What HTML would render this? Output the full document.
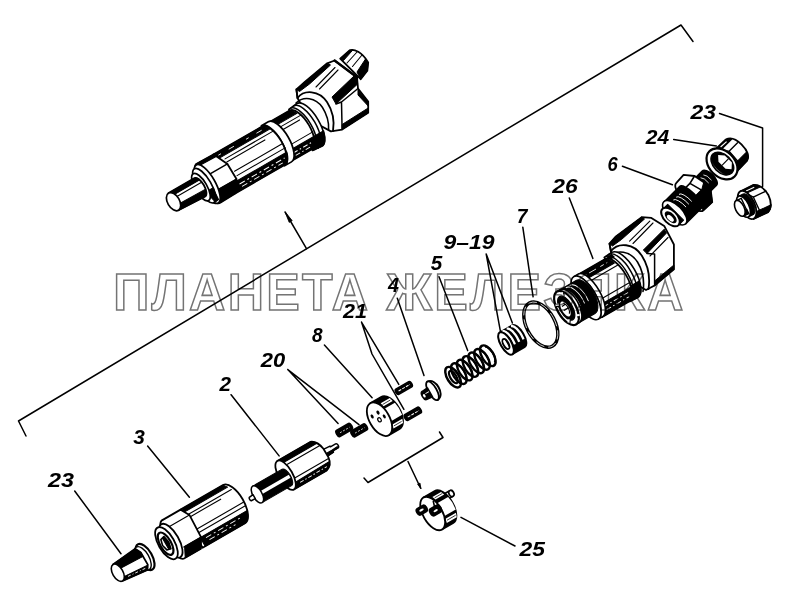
<!DOCTYPE html>
<html lang="ru">
<head>
<meta charset="utf-8">
<title>Форсунка</title>
<style>
html,body{margin:0;padding:0;background:#fff;}
body{width:800px;height:590px;overflow:hidden;position:relative;}
svg{position:absolute;left:0;top:0;display:block;}
.ln{stroke:#000;stroke-width:1.5;fill:none;stroke-linecap:round;stroke-linejoin:round;}
.th{stroke:#000;stroke-width:1.1;fill:none;stroke-linecap:round;stroke-linejoin:round;}
.bd{stroke:#000;stroke-width:1.8;fill:#fff;stroke-linecap:round;stroke-linejoin:round;}
.bk{stroke:#000;stroke-width:1;fill:#000;stroke-linejoin:round;}
.lb{font-family:"Liberation Sans",sans-serif;font-weight:bold;font-style:italic;font-size:19.5px;fill:#000;}
.wm{font-family:"Liberation Sans",sans-serif;font-weight:bold;font-size:52.6px;fill:none;stroke:#747474;stroke-width:1.55;mix-blend-mode:multiply;}
</style>
</head>
<body>
<svg width="800" height="590" viewBox="0 0 800 590">
<rect x="0" y="0" width="800" height="590" fill="#fff"/>

<!-- PARTS -->
<g id="parts">
<!-- part 23: protective cap (left) -->
<g transform="translate(117.8 572.7) rotate(-30)">
<ellipse class="bd" cx="31.5" cy="0" rx="7" ry="14.5" style="stroke-width:2.2"/>
<ellipse class="bd" cx="28.8" cy="0" rx="6.3" ry="13" style="stroke-width:1.4"/>
<path class="bd" d="M0 -9.5 L27 -12 L30 -6 L30 8 L27 12.5 L0 9.5 Z"/>
<path class="bk" d="M0 -9.5 L27 -12 L30 -6 L30 -1.5 L4 -2.5 Z"/>
<path class="bk" d="M4 6.5 L29 8.5 L27 12.5 L1 9.5 Z"/>
<path d="M7 8.3 L26 10" stroke="#fff" stroke-width="0.8" stroke-dasharray="3 2 1 2" fill="none"/>
<ellipse class="bd" cx="0" cy="0" rx="5.2" ry="9.5" style="stroke-width:1.6"/>
</g>
<!-- part 2: nozzle -->
<g transform="translate(285.6 475.2) rotate(-30)">
<path class="bd" d="M44 -3.6 L53 -3 L53 -2.2 L59 -2.2 A1.5 2.4 0 0 1 59 2.6 L53 2.6 L53 4 L44 4.6 Z" style="stroke-width:1.5"/>
<path class="bk" d="M45 1.5 L53 1.5 L59 1 L59 2.6 L53 2.6 L53 4 L45 4.6 Z"/>
<path class="bd" d="M0 -16.5 L38 -16.5 C42 -15 45 -10 46 -4 L46 6 C45.5 11 43 15 38 16.5 L0 16.5 Z"/>
<path class="bk" d="M3 -16.5 L38 -16.5 C40 -15.8 42 -14 43 -12 L5 -12 Z"/>
<path class="bk" d="M6 11 L44 10 C43 13.5 41 15.5 38 16.5 L3 16.5 Z"/>
<path class="th" d="M7 -8.5 L44.5 -8.5 M7 7 L45 7"/>
<path d="M9 13.5 L40 13.2" stroke="#fff" stroke-width="0.9" stroke-dasharray="4 2 1.5 2" fill="none"/>
<ellipse class="bd" cx="0" cy="0" rx="7" ry="16.5"/>
<path class="bk" d="M-34 -7 L0 -7 A4 9.5 0 0 1 0 12 L-34 12 Z"/>
<path d="M-30 1.2 L3 1.2 L3 4.6 L-30 4.6 Z" fill="#fff"/>
<ellipse class="bd" cx="-34" cy="2.5" rx="4.6" ry="9.5" style="stroke-width:1.5"/>
<path class="bd" d="M-38 0.6 L-42.5 1 A1.6 2.4 0 0 0 -42.5 5 L-38 5.2 Z" style="stroke-width:1.5"/>
</g>
<!-- part 3: nozzle nut -->
<g transform="translate(165.6 543.7) rotate(-30)">
<path class="bd" d="M30 -22 L79 -22 A10 22 0 0 1 79 22 L30 22 Z"/>
<path class="bk" d="M33 22 L80 22 A10 22 0 0 0 87 12 L33 12 Z"/>
<path class="bk" d="M32 -22 L79 -22 L82 -18 L32 -18 Z"/>
<path class="th" d="M34 -14 L84 -14 M34 -11 L70 -11 M34 3 L88 3 M34 7 L88 7"/>
<path d="M38 15 L80 15 M40 18.5 L70 18.5" stroke="#fff" stroke-width="0.9" stroke-dasharray="6 3 2 3" fill="none"/>
<path class="bd" d="M8 -22 L30 -22 L35 -13 L34 12 L28 22 L10 22 A8 22 0 0 1 8 -22 Z"/>
<path class="bk" d="M10 22 L28 22 L34 12 L15 12 Z"/>
<path class="th" d="M9 -13 L35 -13 M14 12 L34 12"/>
<ellipse class="bd" cx="6" cy="0" rx="8" ry="19"/>
<ellipse class="bd" cx="1" cy="0" rx="8" ry="18"/>
<ellipse class="bd" cx="0" cy="0" rx="5.5" ry="12.5" style="stroke-width:2.2"/>
<path class="bk" d="M-2 -6 L2 -7 L3.5 0 L2 7 L-2 6 L-3.5 0 Z" style="fill:#fff;stroke-width:1.6"/>
<path class="bk" d="M0 -6 L2 -7 L3.5 0 L2 7 L0 6 Z"/>
</g>
<!-- pins 20 -->
<g transform="translate(344.2 430) rotate(-30)">
<path class="bk" d="M-7 -3.4 L7 -3.4 A1.6 3.4 0 0 1 7 3.4 L-7 3.4 A1.6 3.4 0 0 1 -7 -3.4 Z" style="stroke-width:1.6"/>
<path d="M-5 0.3 L6 0.3" stroke="#fff" stroke-width="0.7" stroke-dasharray="2 1.5" fill="none"/>
</g>
<g transform="translate(359.2 430.4) rotate(-30)">
<path class="bk" d="M-7 -3.4 L7 -3.4 A1.6 3.4 0 0 1 7 3.4 L-7 3.4 A1.6 3.4 0 0 1 -7 -3.4 Z" style="stroke-width:1.6"/>
<path d="M-5 0.3 L6 0.3" stroke="#fff" stroke-width="0.7" stroke-dasharray="2 1.5" fill="none"/>
</g>
<!-- part 8: spacer disc -->
<g transform="translate(379.5 419.2) rotate(-30)">
<path class="bk" d="M0 -18.5 L12.5 -18.5 A10 18.5 0 0 1 12.5 18.5 L0 18.5 Z" style="stroke-width:1.8"/>
<path d="M9 -13.2 L19.5 -13.2 L20.5 -9.2 L10 -9.2 Z M8.5 11 L20 11 L18.5 15 L7.5 15 Z" fill="#fff"/>
<path d="M9.5 -6.5 L21.5 -6.5 L22.3 0 L21.8 7.5 L9 7.5 Z" fill="#fff"/>
<path d="M10 -11.2 L19 -11.2 M9 13 L18 13" stroke="#000" stroke-width="0.7" fill="none"/>
<ellipse class="bd" cx="0" cy="0" rx="10" ry="18.5"/>
<ellipse cx="-5" cy="-6" rx="1.3" ry="2.2" fill="#000"/>
<ellipse cx="2" cy="-6.5" rx="1.4" ry="2.2" fill="#000"/>
<ellipse cx="5.5" cy="0" rx="1.3" ry="2.2" fill="#000"/>
<ellipse cx="-0.3" cy="0.5" rx="1.6" ry="2.2" fill="#fff" stroke="#000" stroke-width="1.2"/>
</g>
<!-- pins 21 -->
<g transform="translate(403.8 388) rotate(-30)">
<path class="bk" d="M-7.5 -3 L7.5 -3 A1.5 3 0 0 1 7.5 3 L-7.5 3 A1.5 3 0 0 1 -7.5 -3 Z" style="stroke-width:1.6"/>
<path d="M-6 0 L7 0" stroke="#fff" stroke-width="1" stroke-dasharray="3 1.2" fill="none"/>
</g>
<g transform="translate(412.8 413.8) rotate(-30)">
<path class="bk" d="M-7.5 -3.2 L7.5 -3.2 A1.5 3.2 0 0 1 7.5 3.2 L-7.5 3.2 A1.5 3.2 0 0 1 -7.5 -3.2 Z" style="stroke-width:1.6"/>
<path d="M-6 0.3 L7 0.3" stroke="#fff" stroke-width="1" stroke-dasharray="3 1.2" fill="none"/>
</g>
<!-- part 4: plate -->
<g transform="translate(432.5 390.8) rotate(-30)">
<path class="bd" d="M0 -10.5 C5 -10 7 -5 7 0 C7 5 5 10 0 10.5 Z" style="stroke-width:2"/>
<ellipse class="bd" cx="0" cy="0" rx="4.2" ry="10.5" style="stroke-width:1.8"/>
<path class="bk" d="M-3 -5 L-9 -4.6 A2.6 4.6 0 0 0 -9 4.6 L-3 5.2 Z" style="stroke-width:1.6"/>
<ellipse cx="-9.6" cy="0.2" rx="1.2" ry="1.9" fill="#fff"/>
<path d="M-7.5 -1 L-3.5 -1" stroke="#fff" stroke-width="0.9"/>
</g>
<!-- part 5: spring -->
<g transform="translate(453.1 377.2) rotate(-31.7)">
<ellipse cx="40.8" cy="0" rx="5.8" ry="11.6" fill="none" stroke="#000" stroke-width="2.4"/>
<path d="M43.0 -8.8 A3.6 8.8 0 0 1 43.0 8.8" fill="none" stroke="#000" stroke-width="1.9"/>
<ellipse cx="34.0" cy="0" rx="5.8" ry="11.6" fill="none" stroke="#000" stroke-width="2.4"/>
<path d="M36.2 -8.8 A3.6 8.8 0 0 1 36.2 8.8" fill="none" stroke="#000" stroke-width="1.9"/>
<ellipse cx="27.2" cy="0" rx="5.8" ry="11.6" fill="none" stroke="#000" stroke-width="2.4"/>
<path d="M29.4 -8.8 A3.6 8.8 0 0 1 29.4 8.8" fill="none" stroke="#000" stroke-width="1.9"/>
<ellipse cx="20.4" cy="0" rx="5.8" ry="11.6" fill="none" stroke="#000" stroke-width="2.4"/>
<path d="M22.6 -8.8 A3.6 8.8 0 0 1 22.6 8.8" fill="none" stroke="#000" stroke-width="1.9"/>
<ellipse cx="13.6" cy="0" rx="5.8" ry="11.6" fill="none" stroke="#000" stroke-width="2.4"/>
<path d="M15.8 -8.8 A3.6 8.8 0 0 1 15.8 8.8" fill="none" stroke="#000" stroke-width="1.9"/>
<ellipse cx="6.8" cy="0" rx="5.8" ry="11.6" fill="none" stroke="#000" stroke-width="2.4"/>
<path d="M9.0 -8.8 A3.6 8.8 0 0 1 9.0 8.8" fill="none" stroke="#000" stroke-width="1.9"/>
<ellipse cx="0.0" cy="0" rx="5.8" ry="11.6" fill="none" stroke="#000" stroke-width="2.4"/>
<path d="M2.2 -8.8 A3.6 8.8 0 0 1 2.2 8.8" fill="none" stroke="#000" stroke-width="1.9"/>
<ellipse cx="0.3" cy="0" rx="3" ry="7" fill="none" stroke="#000" stroke-width="2.2"/>
</g>
<!-- parts 9-19: shims -->
<g transform="translate(506 343.4) rotate(-30)">
<path class="bk" d="M0 -12.6 L14.5 -12.6 A5.4 12.6 0 0 1 14.5 12.6 L0 12.6 Z" style="stroke-width:1.8"/>
<path d="M3.0 -12.5 L3.7 -12.1 L4.3 -11.6 L5.0 -10.8 L5.6 -9.9 L6.1 -8.7 L6.6 -7.4 L6.9 -6.0 L7.2 -4.5 L7.5 -2.9 L7.6 -1.2 L7.6 0.5 L7.5 2.1 L7.4 3.8 L7.1 5.3" fill="none" stroke="#fff" stroke-width="2.3"/>
<path d="M8.0 -12.5 L8.7 -12.1 L9.3 -11.6 L10.0 -10.8 L10.6 -9.9 L11.1 -8.7 L11.6 -7.4 L11.9 -6.0 L12.2 -4.5 L12.5 -2.9 L12.6 -1.2 L12.6 0.5 L12.5 2.1 L12.4 3.8 L12.1 5.3" fill="none" stroke="#fff" stroke-width="2.3"/>
<path d="M13.0 -12.5 L13.7 -12.1 L14.3 -11.6 L15.0 -10.8 L15.6 -9.9 L16.1 -8.7 L16.6 -7.4 L16.9 -6.0 L17.2 -4.5 L17.5 -2.9 L17.6 -1.2 L17.6 0.5 L17.5 2.1 L17.4 3.8 L17.1 5.3" fill="none" stroke="#fff" stroke-width="2.3"/>
<ellipse class="bd" cx="0" cy="0" rx="5.4" ry="12.6" style="stroke-width:2"/>
<ellipse cx="-0.3" cy="0.5" rx="2.6" ry="5.6" fill="#fff" stroke="#000" stroke-width="1.8"/>
<path d="M-0.3 -5.1 A2.6 5.6 0 0 1 -0.3 6.1 A1.2 5.6 0 0 0 -0.3 -5.1 Z" fill="#000"/>
</g>
<!-- part 7: sealing ring -->
<g transform="translate(540.8 324.6) rotate(-28)">
<ellipse cx="0" cy="0" rx="14.3" ry="24.4" fill="none" stroke="#000" stroke-width="3.4"/>
<ellipse cx="0" cy="0" rx="14.3" ry="24.4" fill="none" stroke="#fff" stroke-width="0.7" stroke-dasharray="9 4"/>
</g>
<!-- part 25: spacer with pins -->
<g transform="translate(432.7 513.5) rotate(-30)">
<path class="bd" d="M18 -11.2 L26 -11.2 L26 -4.8 L18 -4.8 Z" style="stroke-width:1.6"/>
<ellipse class="bd" cx="26.2" cy="-8" rx="2.4" ry="3.3" style="stroke-width:1.7"/>
<path class="bk" d="M0 -18.5 L13 -18.5 A9.6 18.5 0 0 1 13 18.5 L0 18.5 Z" style="stroke-width:1.8"/>
<path d="M9 -6.5 L21.5 -6.5 L22.5 0 L22 8 L9 8 Z" fill="#fff"/>
<path d="M8 -14.5 L18 -14.5 L19.5 -10.8 L9.5 -10.8 Z M8.5 11 L20.5 11 L19 15.2 L7.5 15.2 Z" fill="#fff"/>
<path d="M9.5 -12.6 L18.5 -12.6 M9 13 L19 13" stroke="#000" stroke-width="0.7" fill="none"/>
<ellipse class="bd" cx="0" cy="0" rx="9.6" ry="18.5"/>
<path class="bk" d="M-4.5 -12 L-11 -12 A2.2 3.6 0 0 0 -11 -4.8 L-4.5 -4.8 A2.2 3.6 0 0 0 -4.5 -12 Z" style="stroke-width:1.6"/>
<ellipse cx="-8" cy="-8.6" rx="2.4" ry="1.1" fill="#fff"/>
<path class="bk" d="M7.5 -5.2 L0.5 -5.2 A2.4 4 0 0 0 0.5 2.8 L7.5 2.8 A2.4 4 0 0 0 7.5 -5.2 Z" style="stroke-width:1.6"/>
<ellipse cx="4" cy="-1" rx="2.4" ry="1.1" fill="#fff"/>
<path class="th" d="M5 -5 L6.5 -10" style="stroke-width:1.6"/>
</g>
<!-- arrowhead for stem -->
<path d="M420.9 488.6 L417.6 484.2 L420 483.1 Z" fill="#000" stroke="#000" stroke-width="0.8"/>
<!-- part 26: injector body -->
<!-- head (screen coords) -->
<g>
<path class="bd" d="M609.5 243.6 L615.9 236.4 L641.7 217.1 L651.4 217.9 L664.2 225.9 L673.9 244.5 L673.9 269.4 L654.6 285.5 L646 290 L620 275 L611 252 Z"/>
<path class="bk" d="M615.9 236.4 L641.7 217.1 L644.5 219 L621.5 239.5 L612.5 246 L609.5 243.6 Z"/>
<path class="ln" d="M609.5 243.6 L611 251.5" style="stroke-width:1.8"/>
<path class="th" d="M629.6 241.2 L649.8 221.1 M633 243.5 L653 223" />
<path class="bk" d="M643.3 250.1 L664.2 229.2 L666.5 233 L647 253.5 Z"/>
<path class="th" d="M650 256 L668 237.5" />
<path class="ln" d="M654.6 254.1 L654.6 285.5 M647 253.5 L654.6 254.1"/>
<path class="bk" d="M654.6 285.5 L673.9 269.4 L673.9 265 L654.6 281 Z"/>
<path class="ln" d="M611 251 C618 242 634 243 642 256 C649 267 650 279 648.5 289" style="stroke-width:1.8"/>
<path class="ln" d="M609 256.5 C617 249.5 630 250.5 637.5 262 C643.5 272 644.5 282 643 291.5" style="stroke-width:1.6"/>
</g>
<g transform="translate(566.5 308) rotate(-30)">
<!-- collar rings -->
<path class="bd" d="M58 -25 L67 -25.5 A11 25.8 0 0 1 67 26.5 L58 26 Z" style="stroke-width:1.6"/>
<path class="bk" d="M60 13 L76.5 13 A11 25.8 0 0 1 67 26.5 L58 26 Z"/>
<path class="th" d="M63 -25.3 A11 25.5 0 0 1 63 26 M59.5 -25 A10.5 25 0 0 1 59.5 25.8" style="stroke-width:1.5"/>
<path d="M60 -24 L66 -24.5 L67.5 -20 L61.5 -19.5 Z" fill="#000"/>
<!-- body -->
<path class="bd" d="M26 -23 L58 -23 A10 24.3 0 0 1 58 25.6 L26 25.6 Z"/>
<path class="bk" d="M26 -23 L58 -23 A10 24.3 0 0 1 64 -15 L28 -15 Z"/>
<path class="bk" d="M30 14 L66.5 14 A10 24.3 0 0 1 58 25.6 L26 25.6 Z"/>
<path class="th" d="M30 -11.5 L65.5 -11.5 M31 9.5 L67.5 9.5"/>
<path d="M33 17.5 L62 17.5 M34 21.5 L60 21.5" stroke="#fff" stroke-width="0.9" stroke-dasharray="5 2.5 1.5 2.5" fill="none"/>
<path d="M30 -19 L58 -19" stroke="#fff" stroke-width="0.8" stroke-dasharray="4 3 8 5" fill="none"/>
<!-- shoulder ring -->
<path class="bd" d="M22 -23.5 L27 -23.5 A10 24.5 0 0 1 27 25.5 L22 25.5 A10 24.5 0 0 0 22 -23.5 Z" style="stroke-width:1.6"/>
<ellipse class="bd" cx="22" cy="1" rx="10" ry="24.5" style="stroke-width:1.6"/>
<!-- threaded neck -->
<path class="bk" d="M0 -19 L22 -19 A9.2 19 0 0 1 22 19 L0 19 Z"/>
<path d="M5 -17.5 A8.5 18 0 0 1 13 5 M9.5 -17.8 A8.5 18 0 0 1 18 5 M14 -17.8 A8.5 18 0 0 1 22.5 5" fill="none" stroke="#fff" stroke-width="0.9"/>
<!-- front face -->
<ellipse class="bd" cx="3.5" cy="0" rx="9.2" ry="19" style="stroke-width:1.6"/>
<ellipse class="bd" cx="0" cy="0" rx="9.2" ry="19" style="stroke-width:2.2"/>
<ellipse cx="-0.3" cy="0" rx="6.3" ry="13.3" fill="#000" stroke="#000" stroke-width="1.2"/>
<ellipse cx="-1.4" cy="0.3" rx="3.7" ry="8.4" fill="#fff"/>
<path d="M-0.5 -5.5 A2.6 6 0 0 1 -0.5 6.2 M-3.2 -3.5 L0.8 -3.8 M-3.4 1 L1.2 0.8" stroke="#000" stroke-width="1.2" fill="none"/>
<path d="M-8 -8 L-5 -6.5 M3.8 -15.8 L3.2 -12.4 M5.4 11.6 L7.8 12.8 M-5.4 13.6 L-3.6 11" stroke="#fff" stroke-width="2.2" fill="none"/>
<path d="M-8.6 -6.6 L-5.2 -5 M5 -15 L4.4 -11.8 M4.6 13 L7 14.2 M-4.4 14.6 L-2.6 12" stroke="#000" stroke-width="1.1" fill="none"/>
</g>
<!-- part 6: fitting -->
<g transform="translate(670.5 217) rotate(-45)">
<!-- upper thread -->
<path class="bk" d="M44 -10 L55 -10 A4.5 10 0 0 1 55 10 L44 10 Z" style="stroke-width:1.8"/>
<path d="M49 -6.5 A3 8 0 0 1 51 3 M53 -6.5 A3 8 0 0 1 55 3" fill="none" stroke="#fff" stroke-width="0.8"/>
<!-- hex nut -->
<path class="bd" d="M28 -20 L39 -20.5 L46 -12 L48 -1 L47 10 L40 19 L28 18.5 A7 19 0 0 1 28 -20 Z"/>
<path class="bk" d="M30 3 L41 3 L47 10 L40 19 L28 18.5 Z"/>
<path class="bk" d="M41 3 L48 -1 L47 10 Z"/>
<path class="th" d="M26 -10 L37.5 -10 L46 -12 M37.5 -10 L41 3 L31 3" style="stroke-width:1.6"/>
<!-- mid cylinder -->
<path class="bk" d="M6 -15 L28 -15 A5 15 0 0 1 28 15.5 L6 15.5 Z" style="stroke-width:1.8"/>
<path d="M14 -10 A4 12 0 0 1 18 4 M18 -10 A4 12 0 0 1 22 4 M22 -10 A4 12 0 0 1 26 4" fill="none" stroke="#fff" stroke-width="0.9"/>
<ellipse class="bd" cx="6" cy="0" rx="7.5" ry="15.5" style="stroke-width:1.6"/>
<!-- front ring -->
<path class="bk" d="M0 -11 L7 -11 L7 11.5 L0 11.5 Z"/>
<ellipse class="bd" cx="0" cy="0" rx="6.5" ry="11.5" style="stroke-width:2"/>
<ellipse cx="0" cy="0.3" rx="4" ry="7.5" fill="#000"/>
<ellipse cx="-1" cy="0.8" rx="2.2" ry="4.3" fill="#fff"/>
</g>
<!-- part 24: union nut -->
<g transform="translate(722 163.9) rotate(-45)">
<path class="bd" d="M0 -15 L20 -14.5 C25 -13 27.5 -7 27.5 0 C27.5 8 25 14 20 15.5 L0 16 Z"/>
<path class="bk" d="M4 -15 L20 -14.5 C22 -14 23.5 -12.5 24.5 -10.5 L6 -10.5 Z"/>
<path class="bk" d="M8 9 L26 9 C25 13 23 15 20 15.5 L0 16 Z"/>
<path class="th" d="M8 -10.5 L14 -4 L26 -4 M14 -4 L13 9" style="stroke-width:1.4"/>
<path d="M11 -13 L19 -12.5" stroke="#fff" stroke-width="1.2" fill="none"/>
<ellipse class="bd" cx="0" cy="0" rx="12.8" ry="17.8" style="stroke-width:2.2"/>
<ellipse cx="0.5" cy="0" rx="9" ry="13.4" fill="#000" stroke="#000" stroke-width="1.4"/>
<path d="M3.5 -9 L8 -4 L8 6 L3 10.5 L-1 6 L-1 -4 Z" fill="#fff"/>
<path d="M-1 1 L8 1" stroke="#000" stroke-width="1.2"/>
<path d="M-5 -9 A7 12 0 0 0 -5 9.5 A5 11 0 0 1 -5 -9 Z" fill="#fff"/>
</g>
<!-- part 23: protective cap (right) -->
<g transform="translate(739.8 208.3) rotate(-25)">
<path class="bd" d="M8 -15 L22 -15.5 C27 -14 31 -8 31.5 0 C31.5 7 29 13 24 15.5 L8 15.5 Z"/>
<path class="bk" d="M10 -15 L22 -15.5 C24.5 -14.8 26.5 -13 28 -10.8 L11 -10.8 Z"/>
<path class="bk" d="M12 10 L30 10 C28.5 13 26.5 14.8 24 15.5 L8 15.5 Z"/>
<path class="th" d="M12 -10.8 L17 -4.5 L31 -4.5 M17 -4.5 L17 10" style="stroke-width:1.4"/>
<path d="M13 -13 L22 -13" stroke="#fff" stroke-width="1.1" fill="none"/>
<ellipse class="bd" cx="8" cy="0" rx="7.5" ry="15.2" style="stroke-width:1.8"/>
<path class="bk" d="M4 -11.5 L9 -11.5 A5.5 11.5 0 0 1 9 11.5 L4 11.5 Z"/>
<ellipse class="bd" cx="4" cy="0" rx="5.5" ry="11.5" style="stroke-width:1.6"/>
<path class="bd" d="M0 -8.5 L5.5 -8.5 L5.5 8.5 L0 8.5 Z" style="stroke-width:1.4"/>
<path class="bk" d="M1 3.5 L6 3.5 L6 8.5 L0 8.5 Z"/>
<ellipse class="bd" cx="0" cy="0" rx="4.4" ry="8.5" style="stroke-width:1.6"/>
</g>
<!-- assembled injector -->
<g>
<!-- top cap -->
<path class="bd" d="M340.2 58.7 L349.6 50.3 C354 48.5 362 52 368.2 62.4 L367.3 70.8 L360.7 79.2 Z"/>
<path class="bk" d="M340.2 58.7 L349.6 50.3 L353 49.8 L343.5 60.5 Z"/>
<path class="bk" d="M360.7 79.2 L367.3 70.8 L368.2 62.4 L365.5 59 L357 72 Z"/>
<path class="th" d="M347 63 L357 52 M352.5 66.5 L362 55"/>
<!-- head -->
<path class="bd" d="M296.4 89.4 L304.8 82 L327.2 63.3 L334.6 60.5 L357 77.3 L358 88.5 L368.2 101.6 L368.2 112.8 L342.1 129.6 L330.9 131.4 L310 120 L297.5 98 Z"/>
<path class="bk" d="M304.8 82 L327.2 63.3 L330.5 65 L309.5 84 L299.5 91.5 L296.4 89.4 Z"/>
<path class="ln" d="M296.4 89.4 L297.5 98" style="stroke-width:1.8"/>
<path class="th" d="M316 87 L335 67.5 M319.5 89 L338 70"/>
<path class="bk" d="M332 97 L354 76 L357 78.5 L357.6 84 L336 104 Z"/>
<path class="th" d="M334.6 60.5 L357 77.3" style="stroke-width:2.4"/>
<path class="ln" d="M341.5 102 L342.1 129.6 M336 104 L341.5 102 L358 88.5"/>
<path class="bk" d="M342.1 129.6 L368.2 112.8 L368.2 108 L342.1 124.5 Z"/>
<path class="bk" d="M358 90 L368.2 101.6 L368.2 106 L358 95 Z"/>
<path class="ln" d="M297.5 98 C304 89.5 319 90 327 102 C333.5 112 334.5 122 333 131" style="stroke-width:1.8"/>
<path class="ln" d="M296 103 C303 96 315.5 97 322.5 107.5 C327.5 115.5 329 122 328.6 129.5" style="stroke-width:1.5"/>
</g>
<g transform="translate(173.4 201.4) rotate(-30)">
<!-- collar near head -->
<path class="bd" d="M146 -22 L156 -23 A10 24.5 0 0 1 156 26.5 L146 25.5 Z" style="stroke-width:1.6"/>
<path class="bk" d="M148 14 L165.5 14 A10 24.5 0 0 1 156 26.5 L146 25.5 Z"/>
<path class="th" d="M152 -22.5 A10 24.3 0 0 1 152 26.2 M148.5 -22 A10 24 0 0 1 148.5 25.8" style="stroke-width:1.5"/>
<!-- body upper -->
<path class="bd" d="M120 -20.5 L146 -20.5 A9.5 22.2 0 0 1 146 24 L120 24 Z"/>
<path class="bk" d="M120 -20.5 L146 -20.5 A9.5 22.2 0 0 1 151 -14.5 L122 -14.5 Z"/>
<path class="bk" d="M126 14 L155 14 A9.5 22.2 0 0 1 146 24 L120 24 Z"/>
<path class="th" d="M127 -11 L153.5 -11 M127 -7.5 L150 -7.5 M129 9.5 L155.5 9.5"/>
<path d="M128 18 L150 18 M129 21.3 L148 21.3" stroke="#fff" stroke-width="0.9" stroke-dasharray="5 2.5 1.5 2.5" fill="none"/>
<!-- middle ring -->
<path class="bd" d="M114 -21.5 L122 -21.5 A9.5 23 0 0 1 122 24.8 L114 24.8 A9.5 23 0 0 0 114 -21.5 Z" style="stroke-width:1.7"/>
<!-- body lower -->
<path class="bd" d="M58 -20.5 L114 -20.5 A9.5 22.2 0 0 1 114 24 L58 24 Z"/>
<path class="bk" d="M58 -20.5 L114 -20.5 A9.5 22.2 0 0 1 119.5 -14.5 L60 -14.5 Z"/>
<path class="bk" d="M64 14 L123 14 A9.5 22.2 0 0 1 114 24 L58 24 Z"/>
<path class="th" d="M66 -11 L121.5 -11 M66 -7.5 L110 -7.5 M68 4.5 L123.5 4.5 M68 9.5 L123.5 9.5"/>
<path d="M66 18 L118 18 M67 21.3 L114 21.3" stroke="#fff" stroke-width="0.9" stroke-dasharray="6 3 2 3" fill="none"/>
<path d="M62 -17.5 L112 -17.5" stroke="#fff" stroke-width="0.8" stroke-dasharray="3 9 6 14" fill="none"/>
<!-- hex nut -->
<path class="bd" d="M38 -21 L58.5 -20.5 L65.5 -5.4 L65.8 12.2 L57.6 24 L40 24.5 A8 23 0 0 1 38 -21 Z"/>
<path class="bk" d="M44 12.2 L65.8 12.2 L57.6 24 L40 24.5 Z"/>
<path class="th" d="M40 -5.4 L65.5 -5.4 M44 12.2 L65.8 12.2" style="stroke-width:1.5"/>
<path class="bk" d="M40 -21 L58.5 -20.5 L60 -17.5 L40 -18 Z"/>
<!-- collar rings -->
<ellipse class="bd" cx="38" cy="1.8" rx="8" ry="22" style="stroke-width:1.7"/>
<ellipse class="bd" cx="34.5" cy="1.8" rx="7.2" ry="19.5" style="stroke-width:1.7"/>
<path class="bk" d="M33 8 L41 8 L40 21 L36 21.5 Z"/>
<ellipse class="bd" cx="31" cy="1.4" rx="6" ry="15.5" style="stroke-width:1.7"/>
<!-- tip -->
<path class="bd" d="M0 -9.6 L30 -9.6 A4.5 10.6 0 0 1 30 11.6 L0 10.2 Z"/>
<path class="bk" d="M2 -9.6 L30 -9.6 A4.5 10.6 0 0 1 33.5 -5.5 L4 -5.5 Z"/>
<path class="bk" d="M5 5 L34 5.5 A4.5 10.6 0 0 1 30 11.6 L0 10.2 Z"/>
<path class="th" d="M6 -2.5 L34 -2.5"/>
<ellipse class="bd" cx="0" cy="0.3" rx="6" ry="9.9" style="stroke-width:1.7"/>
</g>
<!-- arrowhead on assembled pointer -->
<path d="M285.1 212 L292.2 220.6 L289.2 222.4 Z" fill="#000" stroke="#000" stroke-width="0.8"/>
</g>

<!-- bracket and leader lines -->
<g id="lines" class="ln">
<path d="M26 436 L18.5 421 L681 25 L693 41.5"/>
<path d="M719.5 113.5 L762.6 128 L762.6 186.6"/>
<path d="M673.7 139.6 L716.4 146"/>
<path d="M622.4 166.2 L672.4 184.8"/>
<path d="M569.3 198 L592.9 258.4"/>
<path d="M522.8 227.2 L533.1 296.8"/>
<path d="M486.2 254 L500.3 330.7 M486.2 254 L512.4 323"/>
<path d="M439 276.7 L467.7 350.6"/>
<path d="M397.3 298.3 L424 375.5"/>
<path d="M361.5 322.1 L398.8 384.4 M361.5 322.1 L372 354 L403.9 409.3"/>
<path d="M324.4 345 L372.1 397.8"/>
<path d="M287.8 369.6 L338.1 423.4 M287.8 369.6 L359 424.6"/>
<path d="M231.1 394.7 L279.1 455.9"/>
<path d="M147.6 446 L189.4 497.2"/>
<path d="M74.7 491 L121 553.7"/>
<path d="M461 517.4 L515 546"/>
<path d="M285.1 212 L306.5 248.7"/>
<path d="M364 478 L368 482.5 L443 437.5 L439.5 432"/>
<path d="M408 461.5 L420.7 488.2"/>
</g>

<!-- labels -->
<g id="labels" class="lb">
<text x="690.5" y="119" textLength="25.5" lengthAdjust="spacingAndGlyphs">23</text>
<text x="645.7" y="144.3" textLength="23.4" lengthAdjust="spacingAndGlyphs">24</text>
<text x="607.6" y="171" textLength="10.2" lengthAdjust="spacingAndGlyphs">6</text>
<text x="552.3" y="193" textLength="25.4" lengthAdjust="spacingAndGlyphs">26</text>
<text x="516.7" y="222.7" textLength="10.7" lengthAdjust="spacingAndGlyphs">7</text>
<text x="443.5" y="249" textLength="51" lengthAdjust="spacingAndGlyphs">9–19</text>
<text x="430.8" y="270.2" textLength="11.5" lengthAdjust="spacingAndGlyphs">5</text>
<text x="388.1" y="292.2" textLength="11" lengthAdjust="spacingAndGlyphs">4</text>
<text x="343" y="317.6" textLength="24" lengthAdjust="spacingAndGlyphs">21</text>
<text x="312" y="341.5" textLength="10.6" lengthAdjust="spacingAndGlyphs">8</text>
<text x="260.8" y="367" textLength="24.4" lengthAdjust="spacingAndGlyphs">20</text>
<text x="219.6" y="391.4" textLength="11.5" lengthAdjust="spacingAndGlyphs">2</text>
<text x="133.2" y="444.3" textLength="11.6" lengthAdjust="spacingAndGlyphs">3</text>
<text x="48" y="487.3" textLength="26" lengthAdjust="spacingAndGlyphs">23</text>
<text x="519.6" y="556" textLength="25.4" lengthAdjust="spacingAndGlyphs">25</text>
</g>

<!-- watermark -->
<text id="wm" class="wm" transform="translate(113.2 310) scale(0.955 1)" x="0" y="0" textLength="597" lengthAdjust="spacing">ПЛАНЕТА ЖЕЛЕЗЯКА</text>
</svg>
</body>
</html>
